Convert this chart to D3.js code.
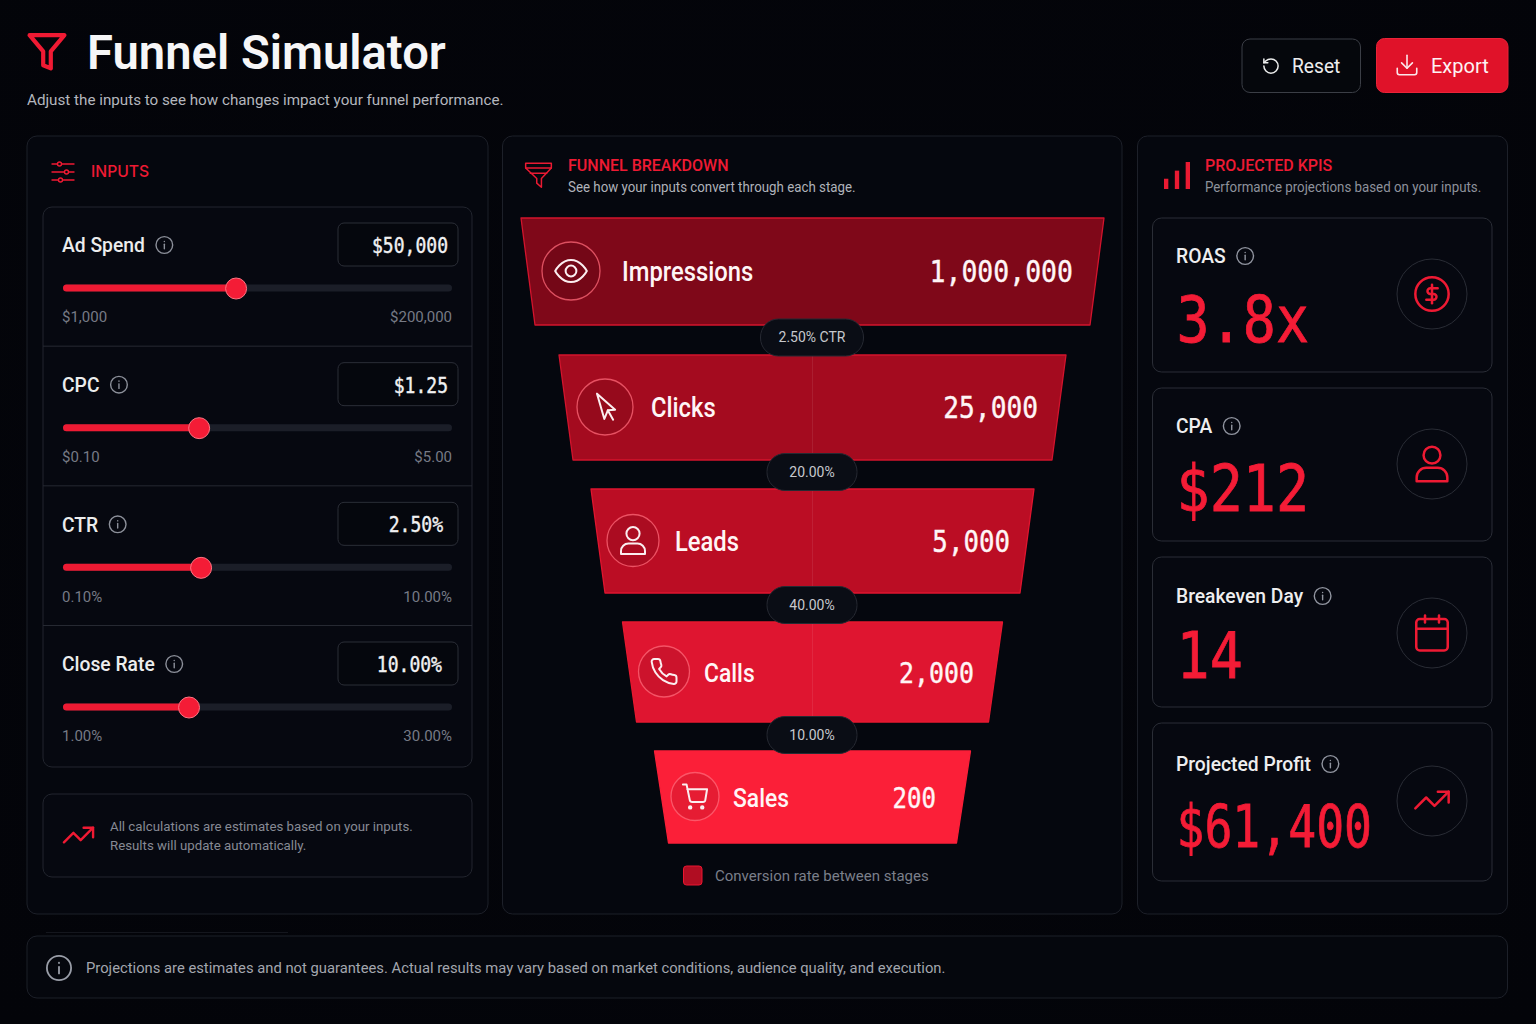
<!DOCTYPE html>
<html>
<head>
<meta charset="utf-8">
<title>Funnel Simulator</title>
<script src="https://cdn.jsdelivr.net/npm/d3@7"></script>
<style>
html, body { margin: 0; padding: 0; background: #030409; }
svg { display: block; }
text { font-family: "Inter", sans-serif; }
.cond { font-family: "Roboto", sans-serif; }
.mono { font-family: "DejaVu Sans Mono", monospace; }
</style>
</head>
<body>
<svg id="chart" width="1536" height="1024"></svg>
<script>
// chart values
var inputNames = ["Ad Spend", "CPC", "CTR", "Close Rate"];
var inputValues = ["$50,000", "$1.25", "2.50%", "10.00%"];
var inputMins = ["$1,000", "$0.10", "0.10%", "1.00%"];
var inputMaxs = ["$200,000", "$5.00", "10.00%", "30.00%"];
var sliderFill = [0.445, 0.35, 0.355, 0.324];

var stages = ["Impressions", "Clicks", "Leads", "Calls", "Sales"];
var stageValues = ["1,000,000", "25,000", "5,000", "2,000", "200"];
var stageIcons = ["eye", "pointer", "user", "phone", "cart"];
var stageRates = ["2.50% CTR", "20.00%", "40.00%", "10.00%"];

var kpiNames = ["ROAS", "CPA", "Breakeven Day", "Projected Profit"];
var kpiValues = ["3.8x", "$212", "14", "$61,400"];
var kpiIcons = ["dollar", "user", "calendar", "trend"];

var RED = "#f41c36";
var svg = d3.select("#chart");

// icon outlines on a 24 unit grid
var ICONS = {
    info: ["M12 2a10 10 0 1 0 0 20a10 10 0 1 0 0-20Z", "M12 16.5v-5.5", "M12 7.6v.3"],
    eye: ["M2 12s3.6-7 10-7 10 7 10 7-3.6 7-10 7-10-7-10-7Z", "M12 8.6a3.4 3.4 0 1 0 0 6.8a3.4 3.4 0 1 0 0-6.8Z"],
    pointer: ["m6 2 5.5 19 2.6-6.5 5.5-.5L6 2z", "m14.1 14.5 4 7"],
    user: ["M20 21v-2a5 5 0 0 0-5-5H9a5 5 0 0 0-5 5v2Z", "M12 3a4.4 4.4 0 1 0 0 8.8a4.4 4.4 0 1 0 0-8.8Z"],
    phone: ["M22 16.92v3a2 2 0 0 1-2.18 2 19.79 19.79 0 0 1-8.63-3.07 19.5 19.5 0 0 1-6-6 19.79 19.79 0 0 1-3.07-8.67A2 2 0 0 1 4.11 2h3a2 2 0 0 1 2 1.72 12.84 12.84 0 0 0 .7 2.81 2 2 0 0 1-.45 2.11L8.09 9.91a16 16 0 0 0 6 6l1.27-1.27a2 2 0 0 1 2.11-.45 12.84 12.84 0 0 0 2.81.7A2 2 0 0 1 22 16.92z"],
    cart: ["M8 20a1 1 0 1 0 0 2a1 1 0 1 0 0-2Z", "M18 20a1 1 0 1 0 0 2a1 1 0 1 0 0-2Z", "M2 2h3l2.7 13a2 2 0 0 0 2 1.6h8.8a2 2 0 0 0 2-1.6L22 6H5.6"],
    dollar: ["M12 2a10 10 0 1 0 0 20a10 10 0 1 0 0-20Z", "M15.4 8.6h-4.4a1.7 1.7 0 1 0 0 3.4h2a1.7 1.7 0 1 1 0 3.4H8.6", "M12 17.6V6.4"],
    calendar: ["M5 4h14a2 2 0 0 1 2 2v14a2 2 0 0 1-2 2H5a2 2 0 0 1-2-2V6a2 2 0 0 1 2-2Z", "M16 2v4", "M8 2v4", "M3 9.5h18"],
    trend: ["m22 7-8.5 8.5-5-5L2 17", "M15.5 7h6.5v6.5"],
    reset: ["M3 12a9 9 0 1 0 9-9 9.75 9.75 0 0 0-6.74 2.74L3 8", "M3 3v5h5"],
    download: ["M21 15v4a2 2 0 0 1-2 2H5a2 2 0 0 1-2-2v-4", "m7 10 5 5 5-5", "M12 15V3"],
    filter: ["M23 2H1l8.6 10.2V21l4.8 2V12.2L23 2z"],
    funnel: ["M1 2h22v4L14.5 15v7.5L10.5 19v-4L1 6Z", "M1 6h22", "M5 10.4h14"],
    sliders: ["M1 4h5.4", "M10.6 4H23", "M1 12h12.4", "M17.6 12H23", "M1 20h6.4", "M11.6 20H23",
        "M8.5 2a2 2 0 1 0 0 4a2 2 0 1 0 0-4Z", "M15.5 10a2 2 0 1 0 0 4a2 2 0 1 0 0-4Z", "M9.5 18a2 2 0 1 0 0 4a2 2 0 1 0 0-4Z"]
};

function icon(parent, name, cx, cy, size, color, width) {
    var g = parent.append("g")
        .attr("transform", `translate(${cx - size / 2}, ${cy - size / 2}) scale(${size / 24})`);
    g.selectAll("path")
        .data(ICONS[name])
        .enter()
        .append("path")
        .attr("d", (d) => d)
        .attr("fill", "none")
        .attr("stroke", color)
        .attr("stroke-width", width)
        .attr("stroke-linecap", "round")
        .attr("stroke-linejoin", "round")
        .attr("vector-effect", "non-scaling-stroke");
    return g;
}

function box(x0, y0, x1, y1, r, fill, stroke) {
    return svg.append("rect")
        .attr("x", x0).attr("y", y0)
        .attr("width", x1 - x0).attr("height", y1 - y0)
        .attr("rx", r)
        .attr("fill", fill)
        .attr("stroke", stroke);
}

// squeeze narrows the Roboto glyphs towards the reference font
function label(str, x, y, size, color, weight, cls, anchor, squeeze) {
    var t = svg.append("text")
        .attr("class", cls || null)
        .attr("x", x).attr("y", y)
        .attr("dy", "0.35em")
        .attr("text-anchor", anchor || "start")
        .attr("font-size", size)
        .attr("font-weight", weight || 400)
        .attr("fill", color)
        .text(str);
    if (squeeze) {
        t.attr("textLength", t.node().getComputedTextLength() * squeeze)
            .attr("lengthAdjust", "spacingAndGlyphs");
    }
    return t;
}

// narrow mono digits: the reference font is taller than it is wide
function mono(str, x, y, size, color, anchor, sx, bold) {
    return svg.append("text")
        .attr("class", "mono")
        .attr("transform", `translate(${x}, ${y}) scale(${sx || 0.86}, 1)`)
        .attr("text-anchor", anchor || "start")
        .attr("font-size", size)
        .attr("fill", color)
        .attr("stroke", color)
        .attr("stroke-width", bold || 0)
        .text(str);
}

// label followed by its little info icon
function labelWithInfo(str, x, y, size, color, gap, iconSize, iconColor) {
    var t = label(str, x, y, size, color, 500, "cond", "start", 0.94);
    // the length read here is already the squeezed one
    icon(svg, "info", x + t.node().getComputedTextLength() + gap, y, iconSize, iconColor, 1.4);
}

var defs = svg.append("defs");
var bg = defs.append("radialGradient").attr("id", "bg").attr("cx", "50%").attr("cy", "45%").attr("r", "75%");
bg.append("stop").attr("offset", "0%").attr("stop-color", "#04050b");
bg.append("stop").attr("offset", "100%").attr("stop-color", "#030409");

svg.append("rect").attr("width", 1536).attr("height", 1024).attr("fill", "url(#bg)");

// ---- header ----
icon(svg, "filter", 47, 51, 38, "#f01a33", 4.2);
label("Funnel Simulator", 87, 52, 48.5, "#f6f6f7", 600, "cond", "start", 0.973);
label("Adjust the inputs to see how changes impact your funnel performance.", 27, 100, 15.2, "#b4b7be", 400, "cond");

box(1242, 39, 1360.5, 92.5, 8, "#05070c", "#3b3e46");
icon(svg, "reset", 1271, 66, 19, "#eceded", 1.5);
label("Reset", 1292, 66, 20, "#eeeeef", 400, "cond", "start", 0.96);
box(1376.5, 38.5, 1508, 92.5, 8, "#e01229", "#ea2338");
icon(svg, "download", 1407, 65, 26, "#fbe7ea", 1.6);
label("Export", 1431, 66, 20, "#fdf3f4", 400, "cond");

// ---- panels ----
var PANEL_FILL = "#05070e", PANEL_LINE = "#1d2029";
box(27, 136, 488, 914, 10, PANEL_FILL, PANEL_LINE);
box(502.5, 136, 1122, 914, 10, PANEL_FILL, PANEL_LINE);
box(1137.5, 136, 1507.5, 914, 10, PANEL_FILL, PANEL_LINE);

// ---- inputs ----
icon(svg, "sliders", 63, 172, 24, "#f01a33", 1.4);
label("INPUTS", 91, 171.5, 16, "#ee1a33", 500, null, "start", 0.98);

box(43, 207, 472, 767, 9, "#060810", "#22252e");

var rowY = d3.scalePoint().domain(inputNames).range([245, 664]);
var sliderX = d3.scaleLinear().domain([0, 1]).range([63, 452]);

inputNames.forEach((name, i) => {
    var y = rowY(name);

    if (i > 0) {
        svg.append("line")
            .attr("x1", 43).attr("x2", 472)
            .attr("y1", y - 38.5).attr("y2", y - 38.5)
            .attr("stroke", "#262932");
    }

    labelWithInfo(name, 62, y, 20.5, "#eceded", 19.5, 20, "#8c909a");

    box(338, y - 22, 458, y + 21, 6, "#05070d", "#2b2e37");
    mono(inputValues[i], 448 - (i === 2 ? 5 : i === 3 ? 6 : 0), y + 8, 21, "#f1f1f2", "end", 0.86, 0.4);

    // slider: track, filled part, thumb
    svg.append("rect")
        .attr("x", sliderX(0)).attr("y", y + 39.5)
        .attr("width", sliderX(1) - sliderX(0)).attr("height", 7).attr("rx", 3.5)
        .attr("fill", "#1b1e28");
    svg.append("rect")
        .attr("x", sliderX(0)).attr("y", y + 39.5)
        .attr("width", sliderX(sliderFill[i]) - sliderX(0)).attr("height", 7).attr("rx", 3.5)
        .attr("fill", "#ee1a33");
    svg.append("circle")
        .attr("cx", sliderX(sliderFill[i])).attr("cy", y + 43.5)
        .attr("r", 10.5)
        .attr("fill", RED)
        .attr("stroke", "#ff7482");

    label(inputMins[i], 62, y + 72, 15, "#767a85", 400, "cond");
    label(inputMaxs[i], 452, y + 72, 15, "#767a85", 400, "cond", "end");
});

box(43, 794, 472, 877, 9, "#060810", "#22252e");
icon(svg, "trend", 78.5, 835, 35, "#f01a33", 2.4);
label("All calculations are estimates based on your inputs.", 110, 826, 13.25, "#868a94", 400, "cond");
label("Results will update automatically.", 110, 845, 13.25, "#868a94", 400, "cond");

// ---- funnel ----
icon(svg, "funnel", 538.5, 175, 28, "#ea1a32", 1.5);
label("FUNNEL BREAKDOWN", 568, 165, 16, "#ee1a33", 500, "cond");
label("See how your inputs convert through each stage.", 568, 187, 14, "#b0b3ba", 400, "cond", "start", 0.95);

var funnelTop = d3.scaleOrdinal(stages, [218, 355, 489, 622, 751]);
var funnelBottom = d3.scaleOrdinal(stages, [325, 460, 593, 722, 843]);
var funnelWidth = d3.scaleOrdinal(stages, [583, 507, 443, 380, 316]);
var funnelColor = d3.scaleOrdinal(stages, ["#7f0819", "#a40b1f", "#bb0d24", "#df1530", "#fb1f38"]);
var funnelEdge = d3.scaleOrdinal(stages, ["#d3142d", "#d3142d", "#e0152f", "#e8182f", "#fb1f38"]);
var iconX = d3.scaleOrdinal(stages, [571, 605, 633, 664, 695]);
var iconR = d3.scaleOrdinal(stages, [29, 28, 26, 25.5, 24]);
var iconSize = d3.scaleOrdinal(stages, [38, 32, 36, 30, 29]);
var nameX = d3.scaleOrdinal(stages, [622, 651, 675, 704, 733]);
var valueX = d3.scaleOrdinal(stages, [1073, 1038, 1010, 974, 936]);
var valueSize = d3.scaleOrdinal(stages, [30.8, 30.5, 30, 29, 28]);
var nameSize = d3.scaleOrdinal(stages, [27, 27, 27, 26, 26]);
var FUNNEL_CX = 812.5, FUNNEL_INSET = 14;

var funnelLine = d3.line().curve(d3.curveLinearClosed);

stages.forEach((stage, i) => {
    var top = funnelTop(stage), bottom = funnelBottom(stage), half = funnelWidth(stage) / 2;
    var mid = (top + bottom) / 2;

    svg.append("path")
        .attr("d", funnelLine([
            [FUNNEL_CX - half, top],
            [FUNNEL_CX + half, top],
            [FUNNEL_CX + half - FUNNEL_INSET, bottom],
            [FUNNEL_CX - half + FUNNEL_INSET, bottom]
        ]))
        .attr("fill", funnelColor(stage))
        .attr("stroke", funnelEdge(stage))
        .attr("stroke-width", 1.3)
        .attr("stroke-linejoin", "round");

    // faint centre seam, only on the three middle stages
    if (i > 0 && i < 4) {
        svg.append("line")
            .attr("x1", 812.5).attr("x2", 812.5)
            .attr("y1", top).attr("y2", bottom)
            .attr("stroke", "#ffffff").attr("stroke-opacity", 0.08);
    }

    svg.append("circle")
        .attr("cx", iconX(stage)).attr("cy", mid - 0.5)
        .attr("r", iconR(stage))
        .attr("fill", d3.color(funnelColor(stage)).darker(0.25))
        .attr("stroke", "#ff6a7a").attr("stroke-opacity", 0.75).attr("stroke-width", 1.3);
    icon(svg, stageIcons[i], iconX(stage), mid - 0.5, iconSize(stage), "#fbeef0", 2);

    label(stage, nameX(stage), mid + 0.5, nameSize(stage), "#fff5f6", 500, "cond", "start", 0.88);
    mono(stageValues[i], valueX(stage), mid + 10.5, valueSize(stage), "#fff5f6", "end", 0.86, 0.4);
});

var pillY = d3.scaleOrdinal(stageRates, [337.5, 472, 605, 735]);
var pillW = d3.scaleOrdinal(stageRates, [103, 90, 90, 90]);
stageRates.forEach((rate) => {
    var w = pillW(rate), y = pillY(rate);
    box(812 - w / 2, y - 18.5, 812 + w / 2, y + 18.5, 18, "#0a0d15", "#262932");
    label(rate, 812, y, 14, "#c6c8cd", 400, "cond", "middle");
});

box(683.5, 866, 702, 885, 3, "#b00d22", "#ea1630");
label("Conversion rate between stages", 715, 876, 15, "#7b7f8a", 400, "cond");

// ---- kpis ----
var bars = [0.38, 0.68, 1];
var barX = d3.scaleBand().domain(d3.range(bars.length)).range([1164, 1190]).paddingInner(0.6);
var barH = d3.scaleLinear().domain([0, 1]).range([0, 27]);
svg.selectAll(".kpi-bar")
    .data(bars)
    .enter()
    .append("rect")
    .attr("class", "kpi-bar")
    .attr("x", (d, i) => barX(i))
    .attr("y", (d) => 189 - barH(d))
    .attr("width", barX.bandwidth())
    .attr("height", (d) => barH(d))
    .attr("fill", "#ea1a32");

label("PROJECTED KPIS", 1205, 165, 16, "#ee1a33", 500, "cond");
label("Performance projections based on your inputs.", 1205, 187, 14, "#8e929c", 400, "cond", "start", 0.95);

var kpiTop = d3.scaleOrdinal(kpiNames, [218, 388, 557, 723]);
var kpiBottom = d3.scaleOrdinal(kpiNames, [372, 541, 707, 881]);
var kpiLabelY = d3.scaleOrdinal(kpiNames, [256, 426, 596, 764]);
var kpiValueY = d3.scaleOrdinal(kpiNames, [342, 511, 678, 847]);
var kpiValueSize = d3.scaleOrdinal(kpiNames, [64, 64, 64, 58]);
var kpiValueSx = d3.scaleOrdinal(kpiNames, [0.86, 0.86, 0.86, 0.8]);
var kpiCircleY = d3.scaleOrdinal(kpiNames, [294, 464, 633, 801]);
var kpiIconSize = d3.scaleOrdinal(kpiNames, [40, 46, 42, 40]);

kpiNames.forEach((name, i) => {
    box(1152.5, kpiTop(name), 1492, kpiBottom(name), 9, "#060810", "#2a2d36");
    labelWithInfo(name, 1176, kpiLabelY(name), 20.5, "#eeeeef", 19.5, 20, "#9195a0");
    mono(kpiValues[i], 1176.5, kpiValueY(name), kpiValueSize(name), RED, "start", kpiValueSx(name), 0.8);

    svg.append("circle")
        .attr("cx", 1432).attr("cy", kpiCircleY(name)).attr("r", 35)
        .attr("fill", "none").attr("stroke", "#292c35");
    icon(svg, kpiIcons[i], 1432, kpiCircleY(name) + (i === 3 ? -1 : 0), kpiIconSize(name), "#ee1a33", 2.5);
});

// ---- footer ----
svg.append("line")
    .attr("x1", 46).attr("x2", 288).attr("y1", 932.5).attr("y2", 932.5)
    .attr("stroke", "#14161d");
box(27, 936, 1507.5, 998, 10, "#05070d", "#1d2029");
icon(svg, "info", 59, 968, 29, "#9a9ea8", 1.8);
label("Projections are estimates and not guarantees. Actual results may vary based on market conditions, audience quality, and execution.", 86, 968, 14.9, "#a3a6ae", 400, "cond", "start", 0.992);
</script>
</body>
</html>
